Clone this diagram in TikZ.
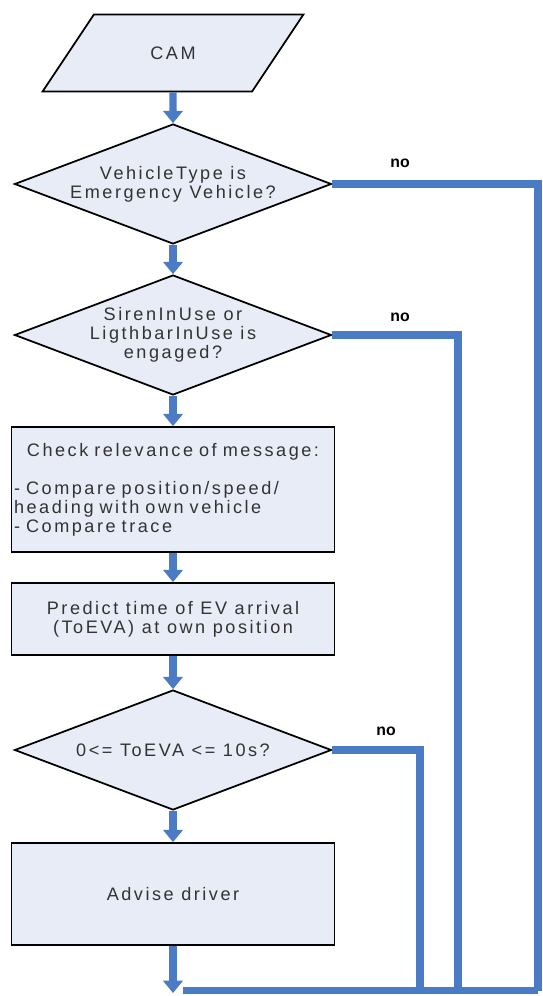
\documentclass[tikz,border=0pt]{standalone}
\usepackage{fontspec}
\setmainfont{Liberation Sans}[LetterSpace=14]
\usetikzlibrary{shapes.geometric,arrows.meta}
\definecolor{flowblue}{HTML}{4A7BC4}
\definecolor{boxfill}{HTML}{E7ECF6}
\tikzset{shapebase/.style={draw=black,line width=1pt,fill=boxfill,text=black!80,font=\fontsize{10.3}{10.8}\selectfont},
  decision/.style={shapebase,diamond,shape aspect=2.64,inner sep=0pt,minimum width=6.34cm,minimum height=2.4cm,align=center},
  process/.style={shapebase,rectangle,inner sep=1pt,minimum width=6.46cm,align=center},
  inputbox/.style={shapebase,trapezium,trapezium left angle=53,trapezium right angle=127,trapezium stretches=true,minimum width=5.22cm,minimum height=1.54cm},
  flow/.style={draw=flowblue,line width=4pt,-{Triangle[width=11pt,length=7pt]}},
  noline/.style={draw=flowblue,line width=4pt},
  nolabel/.style={font=\fontsize{9}{9}\selectfont\bfseries\addfontfeature{LetterSpace=0}}}
\begin{document}
\begin{tikzpicture}[x=0.02cm,y=-0.02cm]
                  \useasboundingbox (0,0) rectangle (542,996);
                  \node[inputbox] (cam) at (173,53) {CAM};
                  \node[decision] (d1) at (173,184) {VehicleType is\\Emergency Vehicle?};
                  \node[decision] (d2) at (173,335) {SirenInUse or\\LigthbarInUse is\\engaged?};
                  \node[process,minimum height=2.5cm,text width=6.36cm,align=left] (chk) at (173,489.5)
                    {{\centering Check relevance of message:\par}\mbox{}\par\raggedright - Compare position/speed/\\heading with own vehicle\\- Compare trace};
                  \node[process,minimum height=1.44cm] (pred) at (173,619) {Predict time of EV arrival\\(ToEVA) at own position};
                  \node[decision] (d3) at (173,750) {0<= ToEVA <= 10s?};
                  \node[process,minimum height=2.04cm] (adv) at (173,894) {Advise driver};
                  \node[nolabel] (no1) at (400,163) {no};
                  \node[nolabel] (no2) at (400,317) {no};
                  \node[nolabel] (no3) at (386,731) {no};
                  \coordinate (sink) at (173,993);
                  \coordinate (join) at (183,990.5);
                  \coordinate (railA) at (538,990.5);
                  \coordinate (railB) at (458,990.5);
                  \coordinate (railC) at (420,990.5);
                  \draw[flow] (cam.south) -- (d1.north);
                  \draw[flow] (d1.south) -- (d2.north);
                  \draw[flow] (d2.south) -- (chk.north);
                  \draw[flow] (chk.south) -- (pred.north);
                  \draw[flow] (pred.south) -- (d3.north);
                  \draw[flow] (d3.south) -- (adv.north);
                  \draw[flow] (adv.south) -- (sink);
                  \draw[noline] (d1.east) -| (railA);
                  \draw[noline] (d2.east) -| (railB);
                  \draw[noline] (d3.east) -| (railC);
                  \draw[noline] (railA) -- (join);
              \end{tikzpicture}
\end{document}
